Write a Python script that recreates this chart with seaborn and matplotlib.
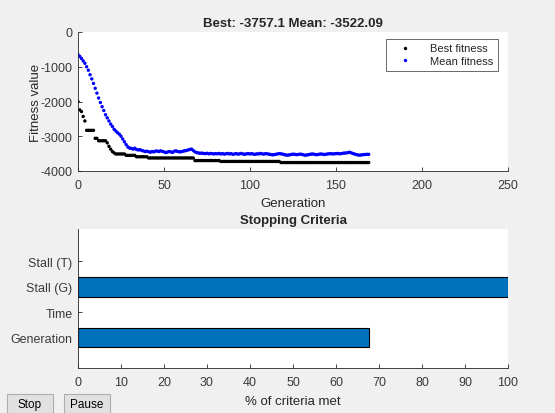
import numpy as np
import pandas as pd
import matplotlib
matplotlib.use('Agg')
import matplotlib.pyplot as plt
import seaborn as sns
from matplotlib.patches import Rectangle

# Dados
best_fitness = [
    -2000, -2240, -2290, -2430, -2560, -2830, -2830, -2830, -2830, -2830,
    -3060, -3060, -3130, -3130, -3130, -3130, -3130, -3190, -3290, -3370,
    -3440, -3480, -3510, -3510, -3510, -3510, -3510, -3510, -3550, -3550,
    -3550, -3550, -3550, -3550, -3590, -3590, -3590, -3590, -3590, -3590,
    -3590, -3625, -3625, -3625, -3625, -3625, -3625, -3625, -3625, -3625,
    -3625, -3625, -3625, -3625, -3625, -3625, -3625, -3625, -3625, -3625,
    -3625, -3625, -3625, -3625, -3625, -3625, -3625, -3625, -3700, -3700,
    -3700, -3700, -3700, -3700, -3700, -3700, -3700, -3700, -3700, -3700,
    -3700, -3700, -3700, -3725, -3725, -3725, -3725, -3725, -3725, -3725,
    -3725, -3725, -3725, -3725, -3725, -3725, -3725, -3725, -3725, -3725,
    -3725, -3725, -3725, -3725, -3725, -3725, -3725, -3725, -3725, -3725,
    -3725, -3725, -3725, -3725, -3725, -3725, -3725, -3725, -3757, -3757,
    -3757, -3757, -3757, -3757, -3757, -3757, -3757, -3757, -3757, -3757,
    -3757, -3757, -3757, -3757, -3757, -3757, -3757, -3757, -3757, -3757,
    -3757, -3757, -3757, -3757, -3757, -3757, -3757, -3757, -3757, -3757,
    -3757, -3757, -3757, -3757, -3757, -3757, -3757, -3757, -3757, -3757,
    -3757, -3757, -3757, -3757, -3757, -3757, -3757, -3757, -3757, -3757.1,
]
mean_fitness = [
    -650, -700, -760, -830, -900, -1000, -1100, -1230, -1350, -1480,
    -1620, -1760, -1900, -2030, -2150, -2260, -2380, -2470, -2560, -2650,
    -2720, -2800, -2850, -2900, -2940, -3000, -3080, -3160, -3240, -3310,
    -3340, -3350, -3370, -3345, -3380, -3395, -3385, -3410, -3420, -3440,
    -3430, -3445, -3460, -3440, -3450, -3430, -3425, -3440, -3420, -3435,
    -3450, -3470, -3455, -3440, -3450, -3465, -3430, -3420, -3440, -3450,
    -3445, -3430, -3420, -3410, -3395, -3380, -3370, -3410, -3450, -3470,
    -3480, -3490, -3485, -3495, -3500, -3490, -3505, -3495, -3500, -3510,
    -3500, -3505, -3495, -3510, -3500, -3515, -3505, -3495, -3510, -3500,
    -3520, -3510, -3500, -3515, -3505, -3495, -3510, -3520, -3505, -3500,
    -3510, -3500, -3515, -3520, -3505, -3510, -3495, -3505, -3515, -3500,
    -3505, -3515, -3525, -3535, -3530, -3520, -3510, -3500, -3505, -3515,
    -3530, -3540, -3545, -3535, -3525, -3515, -3520, -3530, -3525, -3515,
    -3520, -3535, -3545, -3540, -3530, -3520, -3510, -3515, -3525, -3530,
    -3520, -3510, -3515, -3525, -3520, -3510, -3505, -3500, -3510, -3505,
    -3500, -3495, -3505, -3500, -3490, -3485, -3480, -3470, -3460, -3480,
    -3500, -3515, -3530, -3540, -3545, -3535, -3530, -3525, -3520, -3522.09,
]
generations = list(range(len(best_fitness)))

criteria = ['Stall (T)', 'Stall (G)', 'Time', 'Generation']
criteria_pct = [0, 100, 0, 67.6]

df = pd.DataFrame({
    'Generation': generations * 2,
    'Fitness': best_fitness + mean_fitness,
    'Serie': ['Best fitness'] * len(best_fitness) + ['Mean fitness'] * len(mean_fitness),
})
df_crit = pd.DataFrame({'Criterio': criteria, 'Pct': criteria_pct})

sns.set_style('white')
plt.rcParams['font.family'] = ['Liberation Sans', 'DejaVu Sans']
cor_eixo = '#262626'
plt.rcParams.update({
    'axes.unicode_minus': False,
    'axes.edgecolor': cor_eixo, 'axes.linewidth': 0.6,
    'axes.spines.top': False, 'axes.spines.right': False,
    'xtick.color': cor_eixo, 'ytick.color': cor_eixo,
    'xtick.labelcolor': '#3a3a3a', 'ytick.labelcolor': '#3a3a3a',
    'xtick.direction': 'in', 'ytick.direction': 'in',
    'xtick.major.size': 3.2, 'ytick.major.size': 3.2,
    'xtick.major.width': 0.6, 'ytick.major.width': 0.6,
    'xtick.bottom': True, 'ytick.left': True,
    'xtick.top': False, 'ytick.right': False,
    'font.size': 9,
})

fig = plt.figure(figsize=(5.55, 4.14), dpi=100, facecolor='#f0f0f0')
W, H = 555, 414
ax1 = fig.add_axes([78 / W, (H - 172) / H, 430 / W, 139 / H])
ax2 = fig.add_axes([78 / W, (H - 369) / H, 430 / W, 139 / H])

# Grafico 1: evolucao do fitness
sns.scatterplot(data=df, x='Generation', y='Fitness', hue='Serie',
                palette={'Best fitness': 'black', 'Mean fitness': 'blue'},
                s=6, linewidth=0, ax=ax1)
ax1.set_xlim(0, 250)
ax1.set_ylim(-4000, 0)
ax1.set_xticks(range(0, 251, 50))
ax1.set_yticks(range(-4000, 1, 1000))
ax1.set_xlabel('Generation', fontsize=9.5, color=cor_eixo, labelpad=4)
ax1.set_ylabel('Fitness value', fontsize=9.5, color=cor_eixo, labelpad=-1)
ax1.set_title('Best: -3757.1 Mean: -3522.09', fontsize=9.5, fontweight='bold', pad=4)
ax1.tick_params(labelsize=9, pad=6)
ax1.tick_params(axis='y', pad=4)
leg = ax1.legend(loc='upper right', bbox_to_anchor=(0.977, 0.95), borderaxespad=0,
                 fontsize=8, frameon=True, fancybox=False, markerscale=1.0,
                 handletextpad=1.0, borderpad=0.4, labelspacing=0.25, handlelength=2.6)
leg.get_frame().set_edgecolor(cor_eixo)
leg.get_frame().set_linewidth(0.6)
for txt in leg.get_texts():
    txt.set_color(cor_eixo)

# Grafico 2: criterios de parada
sns.barplot(data=df_crit, x='Pct', y='Criterio', orient='h', color='#0072BD',
            saturation=1, width=0.78, edgecolor='black', linewidth=0.8, ax=ax2)
for p in ax2.patches:
    if p.get_width() == 0:
        p.set_linewidth(0)
ax2.set_xlim(0, 100)
ax2.set_ylim(4.2, -1.27)
ax2.set_xticks(range(0, 101, 10))
ax2.set_xlabel('% of criteria met', fontsize=9.5, color=cor_eixo, labelpad=5)
ax2.set_ylabel('')
ax2.set_title('Stopping Criteria', fontsize=9.5, fontweight='bold', pad=4)
ax2.tick_params(labelsize=9, pad=6)
ax2.tick_params(axis='y', pad=4)

for ax in (ax1, ax2):
    for lado in ('top', 'right'):
        ax.spines[lado].set_visible(False)

# Botoes
for x0, x1, label in [(6.7, 53.3, 'Stop'), (64.3, 110, 'Pause')]:
    fig.add_artist(Rectangle((x0 / W, 0), (x1 - x0) / W, 19 / H, transform=fig.transFigure,
                             facecolor='#e1e1e1', edgecolor='#adadad', linewidth=0.8))
    fig.text((x0 + x1) / 2 / W, 9 / H, label, ha='center', va='center', fontsize=8.5, color='black')

plt.savefig('out.png', dpi=100, facecolor=fig.get_facecolor())
